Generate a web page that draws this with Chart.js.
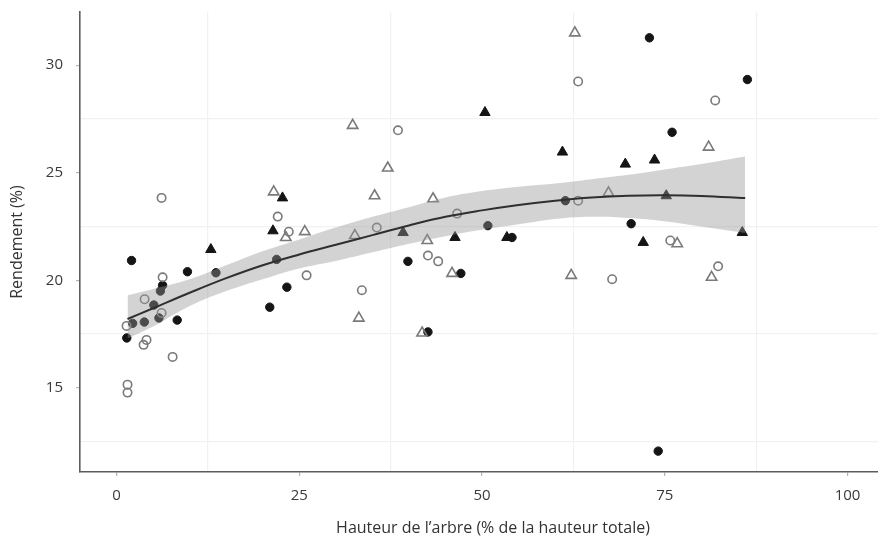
<!DOCTYPE html>
<html lang="fr">
<head>
    <meta charset="UTF-8">
    <title>Rendement selon la hauteur</title>
    <script src="https://cdn.jsdelivr.net/npm/chart.js"></script>
    <style>
        html, body { margin: 0; padding: 0; background: white; overflow: hidden; }
        /* the panel runs past the right edge of the picture, so the canvas is wider than the window */
        #wrap { width: 906px; height: 542px; }
    </style>
</head>
<body>
    <div id="wrap"><canvas id="chart"></canvas></div>
    <script>
        // points
        const filledCircleX = [2.05, 9.7, 8.3, 1.4, 23.3, 20.96, 39.86, 47.1, 42.6, 54.1, 70.4, 72.9, 86.3, 76.0, 74.1, 13.6, 21.9, 61.4, 50.8, 6.3, 6.0, 5.1, 5.8, 2.2, 3.8];
        const filledCircleY = [20.92, 20.4, 18.15, 17.32, 19.68, 18.75, 20.88, 20.32, 17.6, 21.99, 22.63, 31.27, 29.33, 26.88, 12.06, 20.35, 20.97, 23.7, 22.54, 19.77, 19.5, 18.85, 18.25, 18.0, 18.06];

        const openCircleX = [6.16, 22.05, 23.56, 6.3, 3.84, 6.16, 1.37, 4.1, 3.7, 7.67, 1.5, 1.5, 26.0, 33.56, 38.5, 35.6, 46.6, 42.6, 44.0, 63.15, 67.8, 63.15, 81.9, 75.75, 82.3];
        const openCircleY = [23.83, 22.96, 22.26, 20.14, 19.12, 18.48, 17.88, 17.23, 17.0, 16.44, 15.15, 14.78, 20.23, 19.54, 26.97, 22.45, 23.1, 21.15, 20.88, 23.7, 20.05, 29.24, 28.36, 21.85, 20.65];

        const filledTriX = [12.9, 22.7, 21.4, 50.4, 39.2, 46.3, 53.4, 61.0, 69.6, 73.6, 72.05, 75.2, 85.6];
        const filledTriY = [21.43, 23.83, 22.3, 27.8, 22.22, 21.99, 21.99, 25.96, 25.4, 25.59, 21.76, 23.93, 22.22];

        const openTriX = [21.5, 23.15, 25.75, 32.3, 37.1, 35.3, 43.3, 32.6, 42.5, 45.9, 33.15, 41.8, 62.7, 62.2, 67.3, 81.0, 76.7, 81.4];
        const openTriY = [24.11, 21.99, 22.26, 27.2, 25.22, 23.93, 23.79, 22.08, 21.85, 20.32, 18.24, 17.55, 31.5, 20.23, 24.06, 26.19, 21.7, 20.14];

        // smoothed curve and its band
        const smoothX     = [1.5, 5, 10, 15, 20, 25, 30, 35, 40, 45, 50, 55, 60, 65, 70, 75, 80, 86];
        const smoothFit   = [18.2, 18.7, 19.42, 20.1, 20.7, 21.2, 21.65, 22.1, 22.55, 22.95, 23.25, 23.5, 23.7, 23.85, 23.93, 23.95, 23.92, 23.82];
        const smoothUpper = [19.3, 19.6, 20.05, 20.7, 21.35, 21.9, 22.45, 22.95, 23.4, 23.85, 24.15, 24.35, 24.5, 24.7, 24.9, 25.15, 25.4, 25.75];
        const smoothLower = [17.3, 17.85, 18.8, 19.5, 20.05, 20.55, 20.9, 21.3, 21.7, 22.05, 22.35, 22.6, 22.85, 22.95, 22.9, 22.75, 22.5, 22.2];

        const xTicks = [0, 12.5, 25, 37.5, 50, 62.5, 75, 87.5, 100];
        const yTicks = [12.5, 15, 17.5, 20, 22.5, 25, 27.5, 30];
        const xLabelled = [0, 25, 50, 75, 100];
        const yLabelled = [15, 20, 25, 30];

        function pts(xs, ys) {
            return xs.map((x, i) => ({ x: x, y: ys[i] }));
        }

        const tickFont = { family: 'Open Sans', size: 15 };
        const titleFont = { family: 'Open Sans', size: 16 };

        function axis(ticks, labelled, min, max, title, titlePad, labelPad) {
            return {
                type: 'linear',
                min: min,
                max: max,
                afterBuildTicks: scale => { scale.ticks = ticks.map(v => ({ value: v })); },
                ticks: {
                    font: tickFont,
                    color: '#3a3a3a',
                    padding: labelPad,
                    maxRotation: 0,
                    callback: v => labelled.includes(v) ? String(v) : ''
                },
                grid: {
                    color: c => labelled.includes(c.tick.value) ? 'rgba(0,0,0,0)' : '#f1f1f1',
                    tickColor: c => labelled.includes(c.tick.value) ? '#b5b5b5' : 'rgba(0,0,0,0)',
                    tickLength: 4,
                    lineWidth: 1.2
                },
                border: { display: true, color: '#5c5c5c', width: 1.6 },
                title: { display: true, text: title, font: titleFont, color: '#333', padding: titlePad }
            };
        }

        const xAxis = axis(xTicks, xLabelled, -5, 108, 'Hauteur de l\u2019arbre (% de la hauteur totale)', { top: 0, bottom: 4 }, 11);
        xAxis.afterFit = scale => {
            scale.height = 70;
            scale.paddingLeft = 0;
            scale.paddingRight = 0;
        };
        const yAxis = axis(yTicks, yLabelled, 11.09, 32.47, 'Rendement (%)', { top: 8, bottom: 0 }, 13);
        yAxis.afterFit = scale => {
            scale.width = 80;
            scale.paddingTop = 0;
            scale.paddingBottom = 0;
        };

        new Chart(document.getElementById('chart'), {
            type: 'scatter',
            data: {
                datasets: [
                    {
                        type: 'line', label: 'fit', data: pts(smoothX, smoothFit), order: 0,
                        borderColor: '#2f2f2f', borderWidth: 2, pointRadius: 0, tension: 0.4, fill: false
                    },
                    {
                        type: 'line', label: 'upper', data: pts(smoothX, smoothUpper), order: 1,
                        borderWidth: 0, borderColor: 'rgba(0,0,0,0)', pointRadius: 0, tension: 0.4,
                        fill: { target: 2 }, backgroundColor: 'rgba(150,150,150,0.42)'
                    },
                    {
                        type: 'line', label: 'lower', data: pts(smoothX, smoothLower), order: 1,
                        borderWidth: 0, borderColor: 'rgba(0,0,0,0)', pointRadius: 0, tension: 0.4, fill: false
                    },
                    {
                        label: 'open circles', data: pts(openCircleX, openCircleY), order: 2,
                        pointStyle: 'circle', pointRadius: 4.2, borderWidth: 1.6,
                        borderColor: '#7a7a7a', backgroundColor: 'rgba(0,0,0,0)'
                    },
                    {
                        label: 'open triangles', data: pts(openTriX, openTriY), order: 2,
                        pointStyle: 'triangle', pointRadius: 6, borderWidth: 1.6,
                        borderColor: '#7a7a7a', backgroundColor: 'rgba(0,0,0,0)'
                    },
                    {
                        label: 'filled circles', data: pts(filledCircleX, filledCircleY), order: 2,
                        pointStyle: 'circle', pointRadius: 4.2, borderWidth: 1,
                        borderColor: '#151515', backgroundColor: '#151515'
                    },
                    {
                        label: 'filled triangles', data: pts(filledTriX, filledTriY), order: 2,
                        pointStyle: 'triangle', pointRadius: 6, borderWidth: 1,
                        borderColor: '#151515', backgroundColor: '#151515'
                    }
                ]
            },
            options: {
                responsive: true,
                maintainAspectRatio: false,
                animation: false,
                events: [],
                layout: { autoPadding: false, padding: { top: 12, right: 0, left: 0, bottom: 0 } },
                plugins: { legend: { display: false }, tooltip: { enabled: false } },
                scales: { x: xAxis, y: yAxis }
            }
        });
    </script>
</body>
</html>
